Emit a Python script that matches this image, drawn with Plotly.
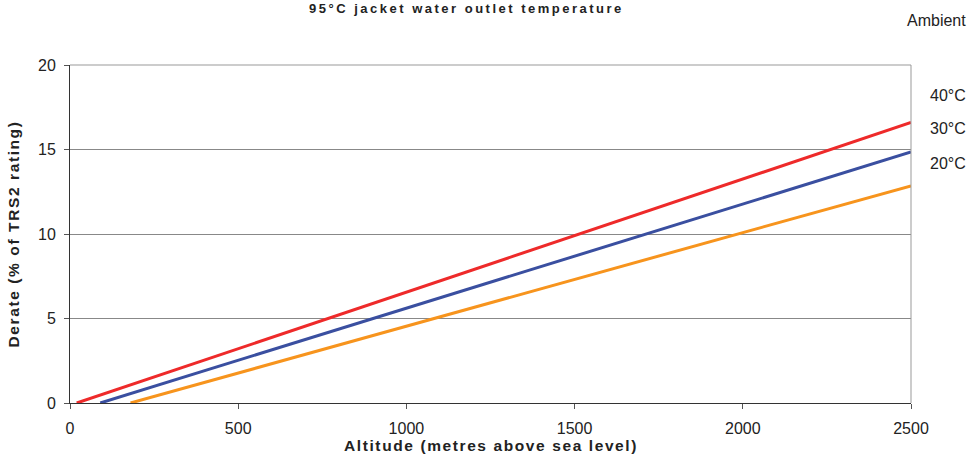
import plotly.graph_objects as go

altitude_40 = [20, 2500]
derate_40 = [0, 16.6]
altitude_30 = [90, 2500]
derate_30 = [0, 14.85]
altitude_20 = [180, 2500]
derate_20 = [0, 12.85]

series = [
    ("40°C", altitude_40, derate_40, "#ee2a2a"),
    ("30°C", altitude_30, derate_30, "#3a4fa0"),
    ("20°C", altitude_20, derate_20, "#f7941d"),
]
legend_labels = ["40°C", "30°C", "20°C"]
x_ticks = [0, 500, 1000, 1500, 2000, 2500]
y_ticks = [0, 5, 10, 15, 20]


def spaced(txt, sp):
    return f'<span style="letter-spacing:{sp}px"><b>{txt}</b></span>'


fig = go.Figure()
for name, xs, ys, col in series:
    fig.add_trace(go.Scatter(x=xs, y=ys, mode="lines", name=name,
                             line=dict(color=col, width=3), showlegend=False))

font = "Liberation Sans, Arial, sans-serif"
fig.update_layout(
    width=971, height=470,
    margin=dict(l=70, r=60, t=65, b=67),
    paper_bgcolor="white", plot_bgcolor="white",
    font=dict(family=font, size=16, color="#222"),
    xaxis=dict(range=[0, 2500], tickvals=x_ticks, showgrid=False,
               showline=True, linecolor="#333", linewidth=1, mirror=False,
               ticks="outside", ticklen=5, tickcolor="#555",
               ticklabelstandoff=6,
               zeroline=False),
    yaxis=dict(range=[0, 20], tickvals=y_ticks, showgrid=True,
               gridcolor="#888", gridwidth=1,
               showline=True, linecolor="#333", linewidth=1,
               ticks="outside", ticklen=5, tickcolor="#555",
               ticklabelstandoff=5,
               title=dict(text=spaced("Derate (% of TRS2 rating)", 1.6),
                          font=dict(size=15.5, color="#222"), standoff=14),
               zeroline=False),
)
fig.add_shape(type="line", xref="paper", yref="paper", x0=0, x1=1, y0=1, y1=1,
              line=dict(color="#999", width=1))
fig.add_shape(type="line", xref="paper", yref="paper", x0=1, x1=1, y0=0, y1=1,
              line=dict(color="#999", width=1))

fig.add_annotation(text=spaced("Altitude (metres above sea level)", 1.6),
                   xref="paper", yref="paper", x=0.5, y=0, yshift=-42,
                   xanchor="center", yanchor="middle", showarrow=False,
                   font=dict(size=15.5, color="#222"))
fig.add_annotation(text=spaced("95°C jacket water outlet temperature", 2.5),
                   xref="paper", yref="paper", x=0.471, y=1, yshift=57,
                   xanchor="center", yanchor="middle", showarrow=False,
                   font=dict(size=13, color="#222"))
fig.add_annotation(text="Ambient", xref="paper", yref="paper", x=1, xshift=57,
                   y=1, yshift=45, xanchor="right", yanchor="middle",
                   showarrow=False, font=dict(size=16, color="#222"))
for i, lab in enumerate(legend_labels):
    fig.add_annotation(text=lab, xref="paper", yref="paper", x=1, xshift=17,
                       y=1, yshift=[-30, -63, -98][i], xanchor="left", yanchor="middle",
                       showarrow=False, font=dict(size=16, color="#222"))

fig.write_html("out.html", config={"displayModeBar": False},
               post_script="document.body.style.margin='0';")
